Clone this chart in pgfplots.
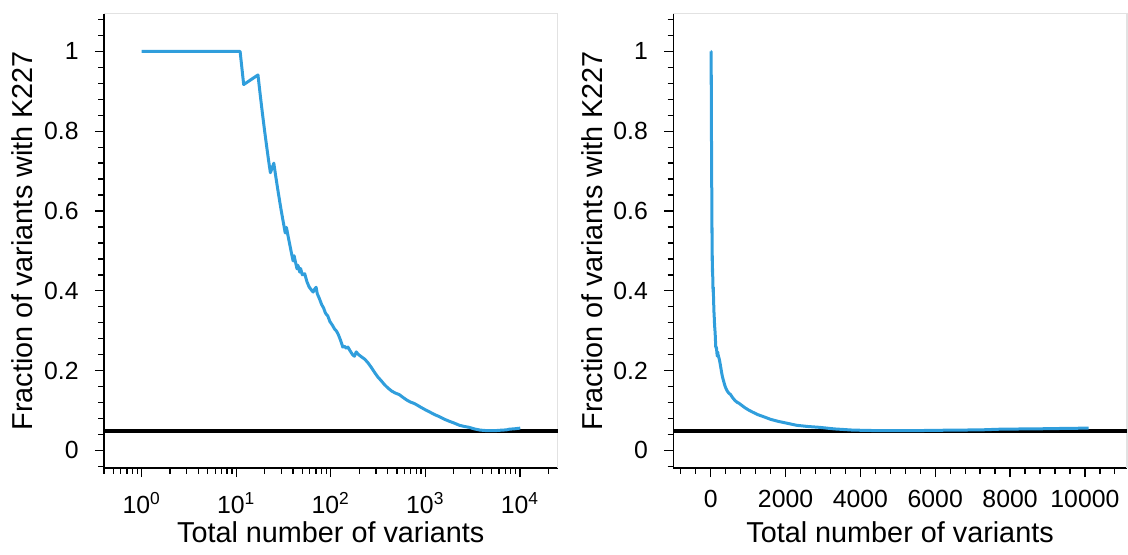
\documentclass[border=0pt]{standalone}
\usepackage{fontspec}
\setmainfont{Liberation Sans}
\usepackage{pgfplots}
\pgfplotsset{compat=1.18}
\usepackage{pgfplotstable}
\definecolor{lineblue}{RGB}{48,158,220}
\definecolor{framegray}{RGB}{226,226,226}

\pgfplotstableread{
x y
1 1
11 1
12 0.917
17 0.941
18 0.889
19 0.842
20 0.800
21 0.762
22 0.727
23 0.696
24 0.708
25 0.720
26 0.692
27 0.667
28 0.643
29 0.621
30 0.600
31 0.581
32 0.563
33 0.545
34 0.559
35 0.543
36 0.528
37 0.514
38 0.500
39 0.487
40 0.475
41 0.488
42 0.476
44 0.455
45 0.464
47 0.447
48 0.456
50 0.440
53 0.443
56 0.423
59 0.410
62 0.403
65 0.397
67 0.403
70 0.409
72 0.393
76 0.380
80 0.366
84 0.357
88 0.344
93 0.337
98 0.323
104 0.314
110 0.304
115 0.299
120 0.291
127 0.276
134 0.259
140 0.261
146 0.256
152 0.259
160 0.250
170 0.240
178 0.236
186 0.247
195 0.241
210 0.235
228 0.229
245 0.221
267 0.209
290 0.196
315 0.184
341 0.175
370 0.165
400 0.157
440 0.149
480 0.144
530 0.140
580 0.133
640 0.126
700 0.121
760 0.118
830 0.113
900 0.108
1000 0.102
1100 0.097
1250 0.090
1400 0.085
1600 0.078
1800 0.073
2000 0.069
2300 0.063
2600 0.060
2900 0.058
3300 0.054
3800 0.051
4300 0.050
5000 0.0498
5700 0.050
6500 0.051
7200 0.0515
7800 0.0535
8600 0.054
9300 0.055
10100 0.056
}\datatable

\newcommand{\yl}[1]{\makebox[1.5em][r]{#1}}
\pgfplotsset{
  myaxis/.style={
    scale only axis,
    width=226.75pt, height=227.25pt,
    ymin=-0.044, ymax=1.095,
    ytick={0,0.2,0.4,0.6,0.8,1},
    yticklabels={\yl{0},\yl{0.2},\yl{0.4},\yl{0.6},\yl{0.8},\yl{1}},
    minor ytick={-0.04,0,...,1.09},
    axis x line*=bottom, axis y line*=left,
    tick align=outside,
    major tick length=4.5pt, minor tick length=2.8pt,
    every tick/.style={black, line width=0.65pt},
    axis line style={black, line width=0.65pt},
    tick label style={font=\fontsize{12.4}{14}\selectfont},
    label style={font=\fontsize{14.4}{17}\selectfont},
    /pgf/number format/assume math mode=true,
    yticklabel style={anchor=east, inner sep=0pt, xshift=-8pt},
    xticklabel style={anchor=base, inner sep=0pt, yshift=-15pt},
    ylabel={Fraction of variants with K227},
    xlabel={Total number of variants},
    ylabel style={at={(axis description cs:-0.1566,0.5)}, anchor=base, rotate=0},
    xlabel style={at={(axis description cs:0.5,-0.1628)}, anchor=base},
    clip=false,
  }
}

\begin{document}
\begin{tikzpicture}
\begin{axis}[myaxis,
  at={(0pt,0pt)}, anchor=south west,
  xmode=log, xmin=0.4, xmax=25000,
  xtick={1,10,100,1000,10000},
  xticklabels={10\textsuperscript{0},10\textsuperscript{1},10\textsuperscript{2},10\textsuperscript{3},10\textsuperscript{4}},
  xticklabel style={yshift=-3pt},
  minor xtick={0.4,0.5,0.6,0.7,0.8,0.9,2,3,4,5,6,7,8,9,20,30,40,50,60,70,80,90,200,300,400,500,600,700,800,900,2000,3000,4000,5000,6000,7000,8000,9000,20000},
]
\draw[framegray, line width=0.75pt] (rel axis cs:0,1) -- (rel axis cs:1,1) -- (rel axis cs:1,0);
\addplot[black, line width=2pt] coordinates {(0.4,0.05) (25000,0.05)};
\addplot[lineblue, line width=1.5pt, line join=round] table[x=x,y=y] {\datatable};
\end{axis}
\begin{axis}[myaxis,
  at={(284.65pt,0pt)}, anchor=south west,
  xmin=-1000, xmax=11120,
  scaled x ticks=false,
  xtick={0,2000,4000,6000,8000,10000},
  xticklabels={0,2000,4000,6000,8000,10000},
  minor xtick={-800,-400,...,11000},
]
\draw[framegray, line width=0.75pt] (rel axis cs:0,1) -- (rel axis cs:1,1) -- (rel axis cs:1,0);
\addplot[black, line width=2pt] coordinates {(-1000,0.05) (11120,0.05)};
\addplot[lineblue, line width=1.5pt, line join=round] table[x=x,y=y] {\datatable};
\end{axis}
\pgfresetboundingbox
\path[use as bounding box] (-52pt,-43pt) rectangle (512pt,234pt);
\end{tikzpicture}
\end{document}
